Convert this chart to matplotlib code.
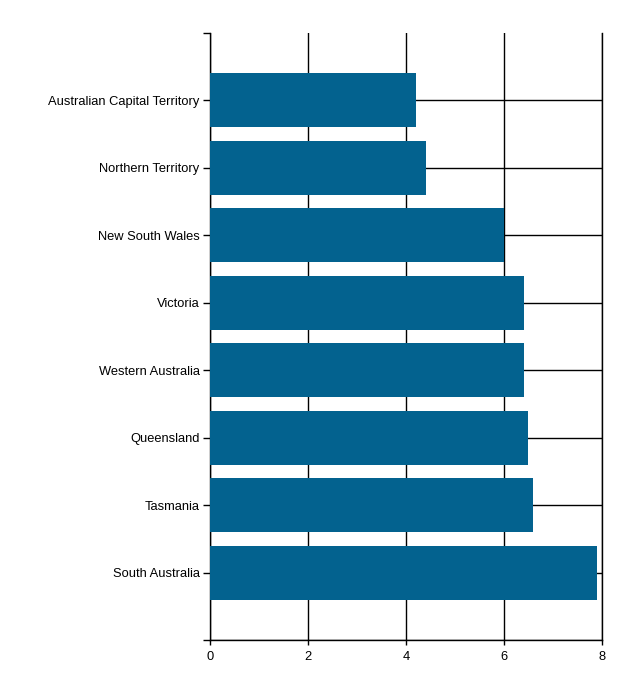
import matplotlib.pyplot as plt

states = [
    "Australian Capital Territory",
    "Northern Territory",
    "New South Wales",
    "Victoria",
    "Western Australia",
    "Queensland",
    "Tasmania",
    "South Australia",
]
values = [4.2, 4.4, 6.0, 6.4, 6.4, 6.5, 6.6, 7.9]
x_ticks = [0, 2, 4, 6, 8]

plt.rcParams["font.family"] = ["Liberation Sans", "DejaVu Sans"]

fig = plt.figure(figsize=(6.28, 7.0), dpi=100)
ax = fig.add_axes([210 / 628, 60 / 700, 392 / 628, 607 / 700])

n = len(states)
ypos = [n - i for i in range(n)]
ax.barh(ypos, values, height=0.8, color="#03628f", zorder=3)

ax.set_xlim(0, 8)
ax.set_ylim(0, n + 1)
ax.set_xticks(x_ticks)
ax.set_xticklabels([str(t) for t in x_ticks], fontsize=9.3)
ax.set_yticks([0] + ypos + [n + 1])
ax.set_yticklabels([""] + states + [""], fontsize=9.3)

ax.grid(True, color="black", linewidth=1, zorder=0)
ax.set_axisbelow(True)
# no horizontal line along the top edge, just the tick
ax.get_ygridlines()[-1].set_visible(False)
ax.spines["top"].set_visible(False)
for side in ("left", "bottom", "right"):
    ax.spines[side].set_linewidth(1)
ax.tick_params(axis="y", length=5, width=1, pad=2.5)
ax.tick_params(axis="x", length=3.6, width=1, pad=4.5)

fig.savefig("out.png", dpi=100)
